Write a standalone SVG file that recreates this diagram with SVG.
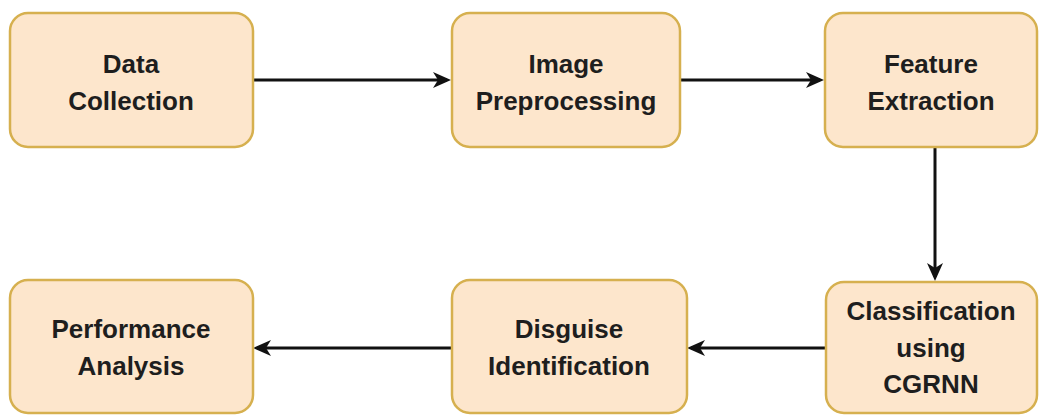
<svg xmlns="http://www.w3.org/2000/svg" width="1040" height="415" viewBox="0 0 1040 415">
<style>
.box{fill:#fde6cc;stroke:#d6b04f;stroke-width:2.5}
.t{font-family:"Liberation Sans",Arial,sans-serif;font-weight:bold;font-size:26px;fill:#1e1e1e;text-anchor:middle}
.c{stroke:#111;stroke-width:3;fill:none;marker-end:url(#ah)}
</style>
<defs>
<marker id="ah" viewBox="0 0 18 16" refX="14" refY="8" markerWidth="18" markerHeight="16" markerUnits="userSpaceOnUse" orient="auto" overflow="visible">
<path d="M0,0 L18,8 L0,16 L5,8 Z" fill="#111"/>
</marker>
</defs>
<g id="connectors">
<path class="c" d="M253,80 H447"/>
<path class="c" d="M680,80 H820"/>
<path class="c" d="M935,147 V277"/>
<path class="c" d="M826,348 H691"/>
<path class="c" d="M452,348 H257"/>
</g>
<g id="n1"><rect class="box" x="10" y="13" width="243" height="134" rx="18"/><text class="t" x="131" y="73">Data</text><text class="t" x="131" y="110">Collection</text></g>
<g id="n2"><rect class="box" x="452" y="13" width="228" height="134" rx="18"/><text class="t" x="566" y="73">Image</text><text class="t" x="566" y="110">Preprocessing</text></g>
<g id="n3"><rect class="box" x="825" y="13" width="212" height="134" rx="18"/><text class="t" x="931" y="73">Feature</text><text class="t" x="931" y="110">Extraction</text></g>
<g id="n4"><rect class="box" x="826" y="282" width="211" height="131" rx="18"/><text class="t" x="931" y="320">Classification</text><text class="t" x="931" y="357">using</text><text class="t" x="931" y="393">CGRNN</text></g>
<g id="n5"><rect class="box" x="452" y="280" width="235" height="133" rx="18"/><text class="t" x="569" y="338">Disguise</text><text class="t" x="569" y="375">Identification</text></g>
<g id="n6"><rect class="box" x="10" y="280" width="243" height="133" rx="18"/><text class="t" x="131" y="338">Performance</text><text class="t" x="131" y="375">Analysis</text></g>
</svg>
